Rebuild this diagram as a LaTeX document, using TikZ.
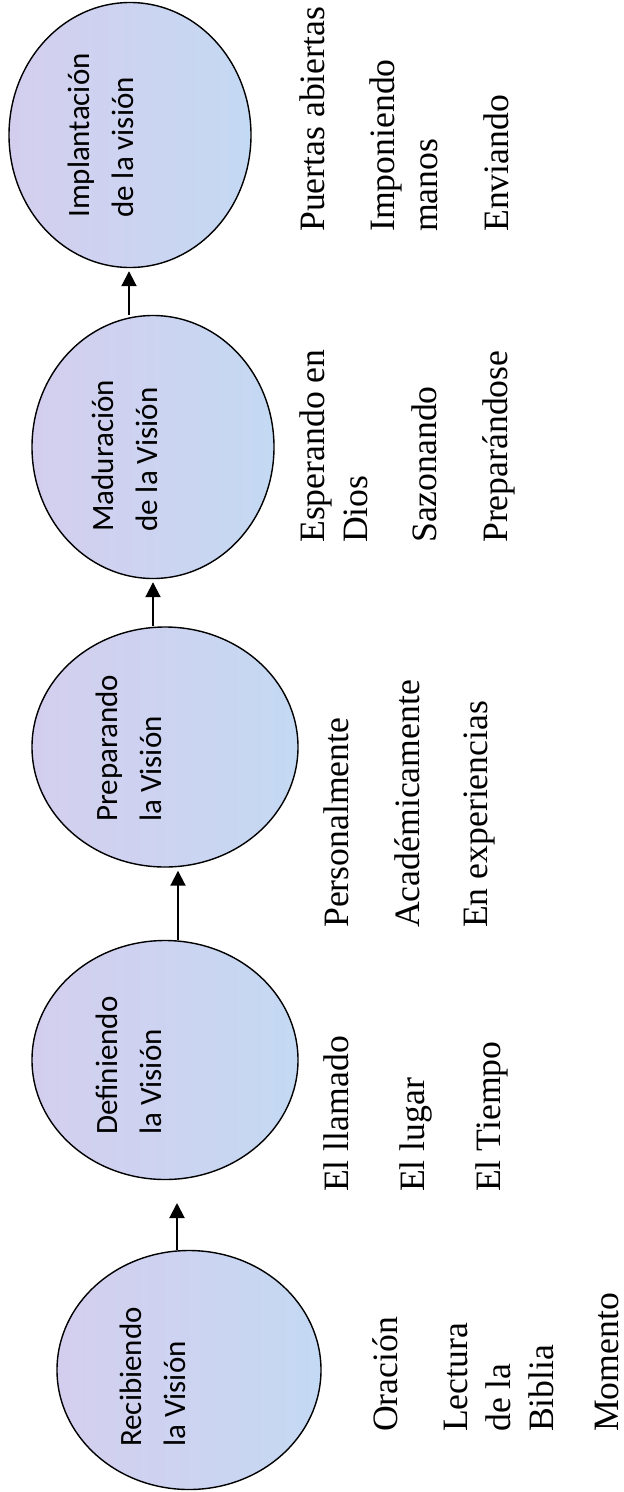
\documentclass[tikz,border=0pt]{standalone}
\usepackage{fontspec}
\usepackage{tikz}
\usepackage{xcolor}
\usetikzlibrary{shapes.geometric,arrows.meta}
\newfontfamily\bubblefont{Carlito}
\newfontfamily\notefont{Liberation Serif}

\begin{document}
\begin{tikzpicture}[x=1pt,y=-1pt,
  stage/.style={ellipse,draw,line width=1.4pt,inner sep=0,left color=lilac,right color=sky},
  stagetext/.style={rotate=90,anchor=north west,inner sep=0,align=left,font=\bubblefont\fontsize{31}{44}\selectfont},
  notetext/.style={rotate=90,anchor=north west,inner sep=0,align=left,font=\notefont\fontsize{35.7}{43}\selectfont},
  arr/.style={line width=2pt,shorten >=3pt,-{Triangle[length=15pt,width=15pt]}}]
\definecolor{lilac}{HTML}{D4CEEE}
\definecolor{sky}{HTML}{C4D9F3}
\useasboundingbox (0,0) rectangle (624,1492);
% the five stages, bottom to top
\foreach \nm/\cx/\cy/\w/\h in {c1/189/1370/264/239,c2/165/1060/266/239,c3/165/747/266/240,c4/153/447/242/263,c5/130/135/242/265}
  {\node[stage,minimum width=\w pt,minimum height=\h pt] (\nm) at (\cx,\cy) {};}
\foreach \nm/\tx/\ty/\txt in {s1/120/1447/{Recibiendo\\la Visión},s2/96/1135/{Definiendo\\la Visión},s3/96/822/{Preparando\\la Visión},s4/92/532/{Maduración\\de la Visión},s5/68/218/{Implantación\\de la visión}}
  {\node[stagetext] (\nm) at (\tx,\ty) {\txt};}
% arrows
\coordinate (tip1) at (177,1200);
\draw[arr] (c1.north -| tip1) -- (tip1);
\foreach \a/\b/\x in {c2/c3/178,c3/c4/153,c4/c5/129}
  {\draw[arr] (\a.north -| \x,0) -- (\b.south -| \x,0);}
% notes beside each stage
\foreach \nm/\lx/\ly/\txt in {o1/372/1432/Oración,o2/444/1432/{Lectura\\de la\\Biblia},o3/595/1432/Momento,
  d1/324/1192/El llamado,d2/400/1192/El lugar,d3/476/1192/El Tiempo,
  p1/324/928/Personalmente,p2/394/928/Académicamente,p3/464/928/En experiencias,
  m1/300/543/{Esperando en\\Dios},m2/412/543/Sazonando,m3/482/543/Preparándose,
  i1/300/232/Puertas abiertas,i2/370/232/{Imponiendo\\manos},i3/484/232/Enviando}
  {\node[notetext] (\nm) at (\lx,\ly) {\txt};}
\end{tikzpicture}
\end{document}
